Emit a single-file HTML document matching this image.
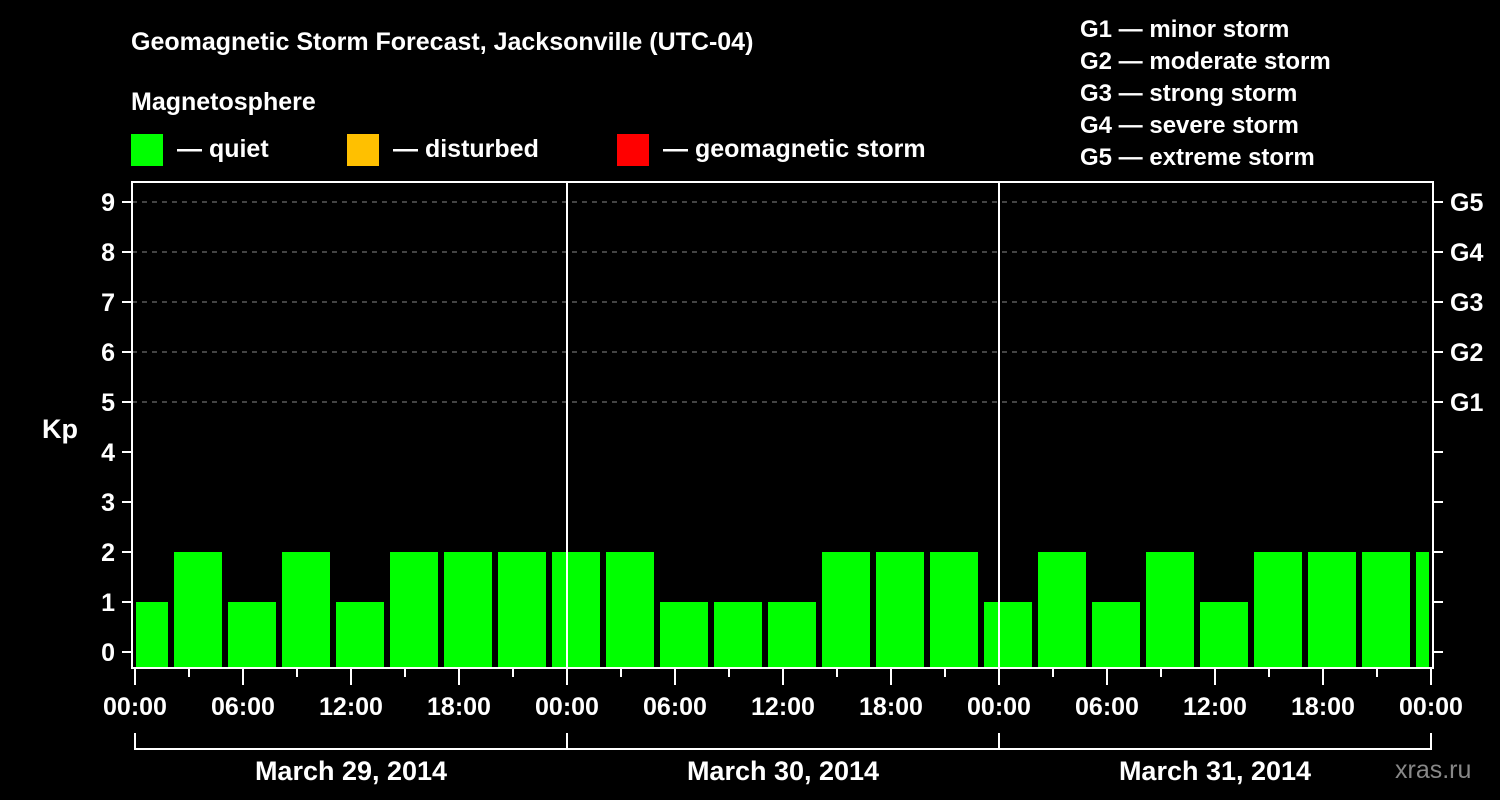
<!DOCTYPE html>
<html><head><meta charset="utf-8"><style>
body{margin:0;background:#000;}
svg{display:block;font-family:"Liberation Sans",sans-serif;font-weight:bold;}
</style></head><body>
<svg id="c" width="1500" height="800" viewBox="0 0 1500 800">
<rect width="1500" height="800" fill="#000"/>
<text x="131" y="50" fill="#fff" font-size="25">Geomagnetic Storm Forecast, Jacksonville (UTC-04)</text>
<text x="131" y="110" fill="#fff" font-size="25">Magnetosphere</text>
<g><rect x="131" y="134" width="32" height="32" fill="#00ff00"/><text x="177" y="157" fill="#fff" font-size="25">— quiet</text></g>
<g><rect x="347" y="134" width="32" height="32" fill="#ffc000"/><text x="393" y="157" fill="#fff" font-size="25">— disturbed</text></g>
<g><rect x="617" y="134" width="32" height="32" fill="#ff0000"/><text x="663" y="157" fill="#fff" font-size="25">— geomagnetic storm</text></g>
<g fill="#fff" font-size="24">
<text x="1080" y="37">G1 — minor storm</text><text x="1080" y="69">G2 — moderate storm</text><text x="1080" y="101">G3 — strong storm</text><text x="1080" y="133">G4 — severe storm</text><text x="1080" y="165">G5 — extreme storm</text>
</g>
<text x="42" y="438" fill="#fff" font-size="27">Kp</text>
<text x="1395" y="778" fill="#888" font-size="25" font-weight="normal">xras.ru</text>
<g id="grid"></g><g id="bars"></g><g id="axes"></g>
</svg>
<script>
const kpValues=[1,2,1,2,1,2,2,2,2,2,1,1,1,2,2,2,1,2,1,2,1,2,2,2,2];
const yTicks=[0,1,2,3,4,5,6,7,8,9];
const gLabels=["G1","G2","G3","G4","G5"];
const gLevels=[5,6,7,8,9];
const xTickLabels=["00:00","06:00","12:00","18:00","00:00","06:00","12:00","18:00","00:00","06:00","12:00","18:00","00:00"];
const dayLabels=["March 29, 2014","March 30, 2014","March 31, 2014"];
const startOffsetHours=-1, binHours=3;
const NS="http://www.w3.org/2000/svg";
const L=132,R=1433,T=182,B=668,X0=135,PXH=18;
const xs=h=>X0+h*PXH, ys=v=>652-v*50;
function mk(p,t,a){const e=document.createElementNS(NS,t);for(const k in a)e.setAttribute(k,a[k]);p.appendChild(e);return e;}
const grid=document.getElementById('grid'),bars=document.getElementById('bars'),axes=document.getElementById('axes');
gLevels.forEach(v=>{const l=mk(grid,'line',{x1:L,x2:R,y1:ys(v),y2:ys(v),stroke:'#888','stroke-dasharray':'5,5','stroke-width':1});

});
kpValues.forEach((v,i)=>{let x1=xs(startOffsetHours+i*binHours)+3,x2=x1+48;x1=Math.max(x1,L+4);x2=Math.min(x2,R-4);
const col=v>=5?'#ff0000':(v>=4?'#ffc000':'#00ff00');
const r=mk(bars,'rect',{x:x1,y:ys(v),width:x2-x1,height:B-1-ys(v),fill:col});

});
[1,2].forEach(d=>{const l=mk(axes,'line',{x1:xs(24*d),x2:xs(24*d),y1:T,y2:B,stroke:'#fff','stroke-width':2});

});
const fr=mk(axes,'rect',{x:L,y:T,width:R-L,height:B-T,fill:'none',stroke:'#fff','stroke-width':2});


yTicks.forEach(v=>{mk(axes,'line',{x1:122,x2:L,y1:ys(v),y2:ys(v),stroke:'#fff','stroke-width':2});
mk(axes,'line',{x1:R,x2:1443,y1:ys(v),y2:ys(v),stroke:'#fff','stroke-width':2});
const t=mk(axes,'text',{x:115,y:ys(v)+9,fill:'#fff','font-size':25,'text-anchor':'end'});t.textContent=v;

});
gLevels.forEach((v,i)=>{const t=mk(axes,'text',{x:1450,y:ys(v)+9,fill:'#fff','font-size':25});t.textContent=gLabels[i];

});
for(let h=0;h<=72;h+=3){const maj=h%6===0;mk(axes,'line',{x1:xs(h),x2:xs(h),y1:B,y2:maj?685:677,stroke:'#fff','stroke-width':2});}
xTickLabels.forEach((s,i)=>{const t=mk(axes,'text',{x:xs(i*6),y:715,fill:'#fff','font-size':25,'text-anchor':'middle'});t.textContent=s;

});
mk(axes,'path',{d:`M${xs(0)} 733V749H${xs(72)}V733`,fill:'none',stroke:'#fff','stroke-width':2});
[1,2].forEach(d=>mk(axes,'line',{x1:xs(24*d),x2:xs(24*d),y1:733,y2:749,stroke:'#fff','stroke-width':2}));
dayLabels.forEach((s,i)=>{const t=mk(axes,'text',{x:xs(24*i+12),y:780,fill:'#fff','font-size':27,'text-anchor':'middle'});t.textContent=s;

});
</script>
</body></html>
